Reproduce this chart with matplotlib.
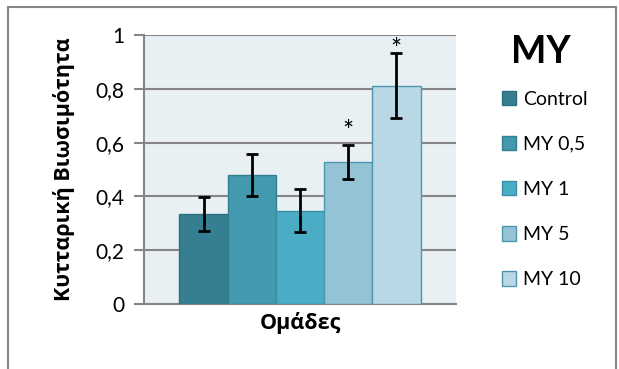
import numpy as np
import matplotlib.pyplot as plt
from matplotlib.patches import Rectangle, Patch

plt.rcParams['font.family'] = ['Lato', 'Noto Sans', 'DejaVu Sans']
griego = ['Open Sans', 'DejaVu Sans']

# Datos
grupos = ['Control', 'MY 0,5', 'MY 1', 'MY 5', 'MY 10']
valores = [0.335, 0.480, 0.347, 0.528, 0.812]
errores = [0.062, 0.077, 0.081, 0.063, 0.121]
# altura de los asteriscos (None = sin significación)
asteriscos = [None, None, None, 0.665, 0.970]
colores = ['#367F92', '#4399AE', '#4BACC6', '#93C3D5', '#B9D7E4']
bordes = ['#2E6E7F', '#337F92', '#3A8FA6', '#4C97AE', '#4C97AE']

fig = plt.figure(figsize=(6.19, 3.69), dpi=100)
fig.patches.append(Rectangle((8/619, -0.1), 608/619, 1.1 - 7/369,
                             transform=fig.transFigure, fill=False,
                             edgecolor='#878787', linewidth=1.5))

ax = fig.add_axes([144/619, 1 - 304/369, 312/619, 269/369])
ax.set_facecolor('#E8F0F4')

x = np.arange(len(grupos)) - 2
ax.bar(x, valores, width=1, color=colores, edgecolor=bordes, linewidth=1,
       zorder=3)
ax.errorbar(x, valores, yerr=errores, fmt='none', ecolor='black',
            elinewidth=2, capsize=4, capthick=2, zorder=4)
for xi, ya in zip(x, asteriscos):
    if ya is not None:
        # el glifo '*' queda ~14 pt por encima de la base del texto
        ax.annotate('*', (xi, ya), xytext=(0, -14.4),
                    textcoords='offset points', ha='center', va='bottom',
                    fontsize=19, zorder=5, annotation_clip=False)

ax.set_xlim(-3.235, 3.235)
ax.set_ylim(0, 1)
ax.set_yticks([0, 0.2, 0.4, 0.6, 0.8, 1])
ax.set_yticklabels(['0', '0,2', '0,4', '0,6', '0,8', '1'], fontsize=15)
ax.set_xticks([])
ax.grid(axis='y', color='#868686', linewidth=1.5, zorder=1)
ax.tick_params(axis='y', length=7, width=1.5, color='#868686', pad=7)
for lado in ['top', 'right']:
    ax.spines[lado].set_visible(False)
for lado in ['left', 'bottom']:
    ax.spines[lado].set_color('#868686')
    ax.spines[lado].set_linewidth(1.5)

ax.set_ylabel('Κυτταρική Βιωσιμότητα', fontsize=15.5, fontweight='bold',
              family=griego, labelpad=15)
ax.set_xlabel('Ομάδες', fontsize=15.5, fontweight='bold', family=griego,
              labelpad=6)

fig.text(541/619, 1 - 52/369, 'MY', fontsize=27, fontweight='bold',
         ha='center', va='center')
handles = [Patch(facecolor=c, edgecolor=b) for c, b in zip(colores, bordes)]
fig.legend(handles, grupos, loc='upper left',
           bbox_to_anchor=(488/619, 1 - 77/369), frameon=False, fontsize=14,
           handlelength=0.75, handleheight=0.75, handletextpad=0.35,
           labelspacing=1.45, borderpad=0.2)

fig.savefig('out.png', dpi=100)
